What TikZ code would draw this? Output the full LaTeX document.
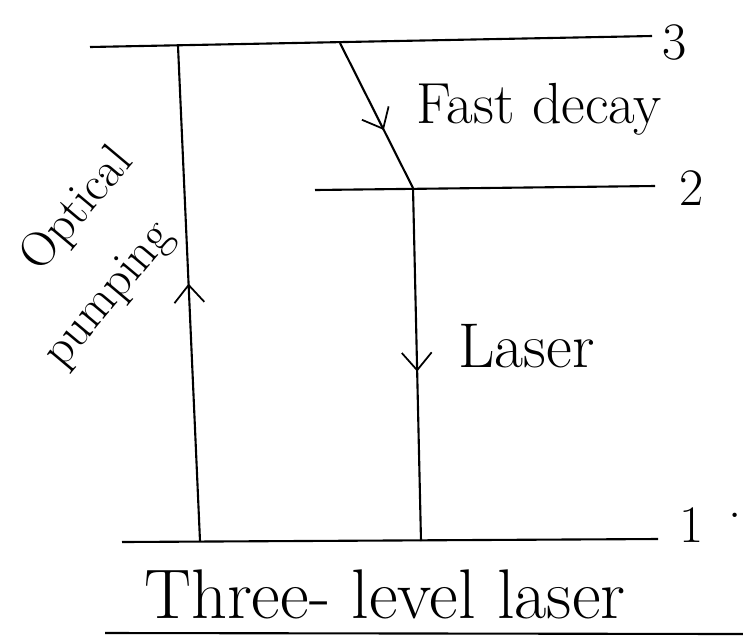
\documentclass[tikz,border=0pt]{standalone}
\usetikzlibrary{arrows.meta,decorations.markings}

\begin{document}
\begin{tikzpicture}[x=0.02cm, y=-0.02cm,
  level/.style={line width=1.2pt},
  hand/.style={font=\fontsize{30}{40}\selectfont},
  midarrow/.style={postaction={decorate}, decoration={markings,
    mark=at position #1 with {\arrow{Straight Barb[length=10pt,width=17pt,line width=1pt]}}}}
]
\useasboundingbox (0,0) rectangle (743,640);

% ── Energy levels ──
\coordinate (L3a) at (90,47);
\coordinate (L3b) at (652,36);
\coordinate (L2a) at (315,190);
\coordinate (L2b) at (655,186);
\coordinate (L1a) at (122,542);
\coordinate (L1b) at (658,539);
\draw[level] (L3a) -- (L3b);
\draw[level] (L2a) -- (L2b);
\draw[level] (L1a) -- (L1b);

\node[hand] (n3) at (675,42) {3};
\node[hand] (n2) at (692,188) {2};
\node[hand] (n1) at (692,525) {1};
\node[hand] (dot) at (735,515) {.};

% ── Transitions ──
\coordinate (pump1) at (200,541);
\coordinate (pump3) at (178,46);
\coordinate (fd3) at (340,43);
\coordinate (fd2) at (413,188);
\coordinate (las1) at (421,541);
\draw[level, midarrow=0.52] (pump1) -- (pump3);
\draw[level, midarrow=0.6] (fd3) -- (fd2);
\draw[level, midarrow=0.52] (fd2) -- (las1);

% Labels
\node[hand, rotate=50, font=\fontsize{28}{34}\selectfont] (opttxt) at (78,210) {Optical};
\node[hand, rotate=50, font=\fontsize{28}{34}\selectfont] (pumptxt) at (110,296) {pumping};
\node[hand, anchor=base west, font=\fontsize{33}{40}\selectfont] (fdtxt) at (410,123) {Fast decay};
\node[hand, anchor=base west, font=\fontsize{36}{40}\selectfont] (lastxt) at (452,367) {Laser};

% ── Caption ──
\node[hand, anchor=base west, font=\fontsize{40}{44}\selectfont] (title) at (138,618) {Three- level laser};
\coordinate (ul1) at (105,633);
\coordinate (ul2) at (743,634);
\draw[level] (ul1) -- (ul2);

\end{tikzpicture}
\end{document}
